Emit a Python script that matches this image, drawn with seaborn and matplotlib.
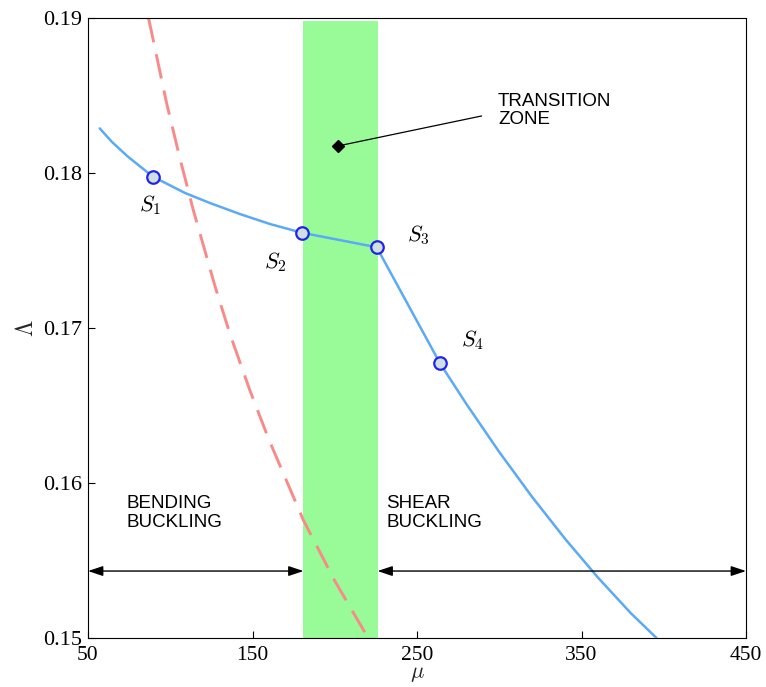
import matplotlib
matplotlib.use("Agg")
import matplotlib.pyplot as plt
import seaborn as sns
import pandas as pd

# Post-buckling load factor versus slenderness
mu_main = [57.1, 64.6, 74.3, 89.5, 109.0, 124.2, 142.4, 160.6, 179.9, 225.5,
           264.0, 280, 300, 320, 340, 360, 380, 395.6]
lam_main = [0.18288, 0.18200, 0.18105, 0.17976, 0.17871, 0.17806, 0.17735,
            0.17671, 0.17615, 0.17521, 0.16772, 0.16510, 0.16200, 0.15910,
            0.15640, 0.15390, 0.15160, 0.15000]

# Bending-buckling reference curve
mu_bend = [86.8, 97.8, 106.0, 114.0, 127.2, 136.3, 148.5, 160.0, 180.9,
           200.0, 220.4]
lam_bend = [0.1900, 0.1845, 0.18089, 0.17761, 0.17270, 0.16961, 0.16595,
            0.16279, 0.15761, 0.15369, 0.14998]

# Highlighted states
state_labels = ["$S_1$", "$S_2$", "$S_3$", "$S_4$"]
mu_states = [89.5, 179.9, 225.5, 264.0]
lam_states = [0.17976, 0.17615, 0.17521, 0.16772]

zone_start, zone_end = 181, 226

sns.set_theme(style="white")
plt.rcParams["mathtext.fontset"] = "cm"
plt.rcParams["font.family"] = ["Liberation Serif", "DejaVu Serif"]
plt.rcParams["text.color"] = "black"

fig = plt.figure(figsize=(7.66, 6.87), dpi=100)
ax = fig.add_axes([88 / 766, 49 / 687, 658 / 766, 620 / 687])

ax.axvspan(zone_start, zone_end, ymin=0, ymax=0.995, color="#98fb98", lw=0, zorder=0)

df_main = pd.DataFrame({"mu": mu_main, "lam": lam_main})
df_bend = pd.DataFrame({"mu": mu_bend, "lam": lam_bend})
df_states = pd.DataFrame({"mu": mu_states, "lam": lam_states})

sns.lineplot(data=df_bend, x="mu", y="lam", sort=False, ax=ax, color="#f88a8a",
             lw=2.1, zorder=2)
ax.lines[-1].set_dashes([8.5, 4.2])
sns.lineplot(data=df_main, x="mu", y="lam", sort=False, ax=ax, color="#5aaaf5",
             lw=1.8, zorder=3)
ax.plot(df_states["mu"], df_states["lam"], ls="none", marker="o", ms=9,
        mfc="#cfe0e0", mec="#2222ee", mew=1.6, zorder=4)

offsets = [(-2, -0.0018), (-16, -0.0019), (25, 0.0008), (20, 0.0015)]
for lab, x, y, (dx, dy) in zip(state_labels, mu_states, lam_states, offsets):
    ax.text(x + dx, y + dy, lab, fontsize=16, ha="center", va="center", color="black")

sans = ["Liberation Sans", "DejaVu Sans"]
ax.plot([202.2], [0.18175], marker="D", ms=6, color="black", zorder=5)
ax.plot([202.2, 289.3], [0.18175, 0.18368], color="black", lw=0.9, zorder=5)
ax.text(299.2, 0.18402, "TRANSITION\nZONE", family=sans, fontsize=13.5,
        ha="left", va="center", linespacing=1.12, color="black")
ax.text(73.5, 0.15806, "BENDING\nBUCKLING", family=sans, fontsize=13.5,
        ha="left", va="center", linespacing=1.12, color="black")
ax.text(231.2, 0.15806, "SHEAR\nBUCKLING", family=sans, fontsize=13.5,
        ha="left", va="center", linespacing=1.12, color="black")

arrow_y = 0.15432
for x0, x1 in [(50, zone_start), (zone_end, 450)]:
    ax.annotate("", xy=(x0, arrow_y), xytext=(x1, arrow_y),
                arrowprops=dict(arrowstyle="<|-|>,head_length=0.6,head_width=0.2",
                                lw=1.0, color="black", shrinkA=0, shrinkB=0,
                                mutation_scale=15))

ax.set_xlim(50, 450)
ax.set_ylim(0.15, 0.19)
ax.set_xticks([50, 150, 250, 350, 450])
ax.set_yticks([0.15, 0.16, 0.17, 0.18, 0.19])
ax.set_yticklabels(["0.15", "0.16", "0.17", "0.18", "0.19"])
ax.tick_params(direction="in", length=5, width=0.8, labelsize=16,
               top=False, right=False, left=True, bottom=True, colors="black")
ax.tick_params(axis="x", pad=6, labelsize=15.5)
ax.tick_params(axis="y", pad=4)
for s in ax.spines.values():
    s.set_color("black")
    s.set_linewidth(0.8)
ax.set_xlabel(r"$\mu$", fontsize=16, labelpad=0)
ax.set_ylabel(r"$\Lambda$", fontsize=17, labelpad=4)

fig.savefig("out.png", dpi=100)
